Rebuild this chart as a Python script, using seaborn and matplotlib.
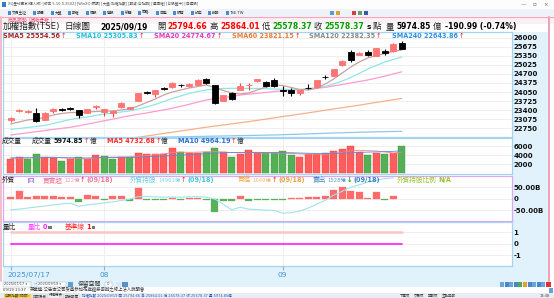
import numpy as np
import matplotlib
matplotlib.use("Agg")
import matplotlib.pyplot as plt
import seaborn as sns
from matplotlib.patches import Rectangle

# ---------------- data ----------------
opens = [23060, 23360, 23330, 23289, 23049, 23380, 23430, 23470, 23396, 23310,
         23510, 23346, 23310, 23504, 23443, 23740, 24055, 23970, 24185, 24220,
         24305, 24250, 24303, 24507, 24303, 23740, 24027, 24124, 24290, 24435,
         24420, 24480, 24110, 24124, 24027, 24200, 24220, 24595, 24625, 25019,
         25485, 25378, 25470, 25342, 25521, 25532, 25794.66]
highs = [23170, 23450, 23400, 23489, 23330, 23470, 23480, 23530, 23420, 23460,
         23600, 23460, 23400, 23690, 23520, 24020, 24100, 24140, 24230, 24400,
         24350, 24360, 24500, 24554, 24320, 23960, 24050, 24364, 24385, 24520,
         24460, 24540, 24267, 24180, 24140, 24330, 24490, 24650, 24880, 25210,
         25557, 25480, 25540, 25640, 25600, 25800, 25864.01]
lows = [22990, 23320, 23290, 22990, 23040, 23300, 23370, 23400, 23110, 23290,
        23460, 23192, 23167, 23490, 23430, 23730, 23990, 23884, 24120, 24210,
        24240, 24240, 24290, 24350, 23630, 23720, 23770, 24110, 24124, 24420,
        24230, 24230, 23908, 23900, 23950, 24160, 24210, 24520, 24610, 25000,
        25140, 25360, 25330, 25330, 25380, 25500, 25578.37]
closes = [23120, 23395, 23360, 23002, 23310, 23440, 23410, 23445, 23217, 23443,
          23535, 23443, 23382, 23669, 23504, 24005, 24030, 24124, 24160, 24385,
          24285, 24339, 24482, 24364, 23647, 23944, 23790, 24267, 24315, 24507,
          24260, 24250, 24090, 24005, 24124, 24180, 24482, 24575, 24865, 25180,
          25215, 25460, 25370, 25618, 25439, 25769.36, 25578.37]

sma5 = [22905, 22977, 23049, 23084, 23138, 23228, 23282, 23317, 23317, 23335,
        23353, 23371, 23371, 23407, 23443, 23550, 23676, 23801, 23944, 24052,
        24124, 24195, 24249, 24303, 24213, 24106, 24016, 23980, 24016, 24124,
        24231, 24303, 24285, 24213, 24141, 24124, 24195, 24338, 24518, 24733,
        24948, 25127, 25270, 25360, 25431, 25503, 25554.56]
sma10 = [22715, 22744, 22780, 22816, 22852, 22923, 22995, 23067, 23120, 23156,
         23210, 23264, 23299, 23335, 23371, 23443, 23514, 23604, 23711, 23819,
         23909, 23998, 24070, 24124, 24159, 24177, 24184, 24184, 24177, 24177,
         24167, 24159, 24149, 24141, 24141, 24177, 24213, 24249, 24338, 24446,
         24571, 24715, 24876, 25001, 25127, 25216, 25305.83]
sma20 = [22511, 22550, 22590, 22630, 22670, 22710, 22750, 22787, 22840, 22900,
         22960, 23020, 23080, 23140, 23200, 23253, 23300, 23360, 23410, 23468,
         23540, 23610, 23690, 23765, 23810, 23850, 23890, 23944, 23975, 24005,
         24035, 24070, 24095, 24115, 24135, 24150, 24180, 24220, 24267, 24320,
         24375, 24430, 24482, 24550, 24620, 24700, 24774.67]
sma60 = [21750, 21800, 21845, 21890, 21935, 21980, 22025, 22070, 22115, 22160,
         22205, 22250, 22295, 22340, 22385, 22430, 22475, 22520, 22565, 22610,
         22655, 22700, 22745, 22790, 22830, 22870, 22910, 22950, 22990, 23035,
         23080, 23125, 23170, 23215, 23260, 23305, 23350, 23400, 23445, 23490,
         23535, 23580, 23630, 23680, 23725, 23775, 23821.15]
sma240 = [22330, 22335, 22340, 22345, 22350, 22356, 22362, 22368, 22374, 22380,
          22386, 22392, 22398, 22404, 22410, 22416, 22422, 22428, 22434, 22440,
          22446, 22452, 22458, 22464, 22470, 22476, 22482, 22488, 22494, 22500,
          22506, 22512, 22522, 22532, 22542, 22552, 22562, 22572, 22582, 22592,
          22600, 22608, 22616, 22624, 22630, 22637, 22643.86]
sma120_last = 22382.35

volume = [3100, 3700, 3100, 4290, 3560, 3340, 2810, 3100, 3700, 3190,
          4000, 3850, 3190, 3700, 3560, 4580, 4290, 4290, 4290, 5530,
          4650, 4500, 4500, 4650, 5530, 4650, 3560, 4290, 5160, 4430,
          4430, 4580, 5010, 4070, 3560, 4290, 4220, 4430, 5010, 5310,
          6040, 4800, 4070, 4580, 4290, 4580, 5974.85]
vol_up = [1, 1, 0, 0, 1, 1, 0, 1, 0, 1, 1, 0, 0, 1, 0, 1, 1, 1, 1, 1,
          0, 1, 1, 0, 0, 1, 0, 1, 1, 1, 0, 0, 0, 0, 1, 1, 1, 1, 1, 1,
          1, 1, 0, 1, 0, 1, 0]
vma5 = [3300, 3350, 3400, 3500, 3550, 3600, 3450, 3350, 3300, 3200,
        3400, 3550, 3600, 3650, 3650, 3800, 3950, 4150, 4300, 4600,
        4700, 4650, 4700, 4750, 4800, 4700, 4600, 4550, 4650, 4550,
        4500, 4500, 4500, 4400, 4300, 4250, 4250, 4150, 4450, 4650,
        5000, 5100, 5000, 4950, 4750, 4460, 4732.68]
vma10 = [3450, 3460, 3470, 3480, 3490, 3500, 3480, 3460, 3440, 3420,
         3450, 3480, 3500, 3520, 3540, 3600, 3680, 3760, 3840, 3950,
         4050, 4150, 4250, 4350, 4450, 4550, 4600, 4600, 4650, 4650,
         4620, 4600, 4580, 4560, 4500, 4450, 4420, 4400, 4420, 4450,
         4550, 4650, 4700, 4750, 4800, 4880, 4964.19]

# foreign investors (億), data up to 09/18
foreign_net = [90, 340, 90, 130, 130, 130, 90, 60, -160, 160,
               130, -70, 130, 130, -80, 460, -40, -50, -50, 50,
               -50, 50, 50, -50, -580, -80, -100, 130, -100, -50,
               -50, -50, -50, 30, 30, 60, 90, 100, 380, 500,
               340, 310, 20, 280, -40, 122]
foreign_hold = [13730, 13760, 13800, 13840, 13880, 13920, 13960, 13990, 13870, 13920,
                13960, 14000, 14040, 14090, 14140, 14240, 14250, 14230, 14220, 14230,
                14220, 14230, 14240, 14220, 14150, 13950, 13730, 13830, 13760, 13740,
                13720, 13710, 13600, 13620, 13680, 13800, 13950, 14100, 14300, 14450,
                14600, 14700, 14800, 14880, 14940, 14961]
foreign_buy_last = 1649
foreign_sell_last = 1528
foreign_date = "09/18"

vol_ratio = [0, 0, 0, 0, 0, 0, 0, 0, 0, 0, 0, 0, 0, 0, 0, 0, 0, 0, 0, 0, 0, 0, 0, 0,
             0, 0, 0, 0, 0, 0, 0, 0, 0, 0, 0, 0, 0, 0, 0, 0, 0, 0, 0, 0, 0, 0, 0]
base_line = [1, 1, 1, 1, 1, 1, 1, 1, 1, 1, 1, 1, 1, 1, 1, 1, 1, 1, 1, 1, 1, 1, 1, 1,
             1, 1, 1, 1, 1, 1, 1, 1, 1, 1, 1, 1, 1, 1, 1, 1, 1, 1, 1, 1, 1, 1, 1]

date_tick_idx = [0, 11, 32]
date_tick_lbl = ["2025/07/17", "08", "09"]
price_ticks = [26000, 25675, 25350, 25025, 24700, 24375, 24050, 23725, 23400, 23075, 22750]
vol_ticks = [6000, 4000, 2000]
foreign_ticks = [500, 0, -500]
foreign_tick_lbl = ["50.00B", "0", "-50.00B"]
ratio_ticks = [1, 0, -1]
last_date = "2025/09/19"

# ---------------- style ----------------
sns.set_theme(style="white")
plt.rcParams['font.family'] = ['DejaVu Sans', 'Noto Sans CJK TC']
plt.rcParams['axes.unicode_minus'] = False

W, H = 554, 298
fig = plt.figure(figsize=(W / 100, H / 100), dpi=100)
fig.patch.set_facecolor('white')
renderer = fig.canvas.get_renderer()


def fx(x):
    return x / W


def fy(y):
    return 1 - y / H


def frect(x0, y0, x1, y1, color, z=-5, ec='none', lw=0):
    fig.add_artist(Rectangle((fx(x0), fy(y1)), (x1 - x0) / W, (y1 - y0) / H,
                             transform=fig.transFigure, facecolor=color,
                             edgecolor=ec, linewidth=lw, zorder=z))


def seq(x, y, parts):
    cur = x
    for p in parts:
        s, color, size, weight = p[:4]
        gap = p[4] if len(p) > 4 else 0.6
        t = fig.text(fx(cur), fy(y), s, color=color, fontsize=size,
                     fontweight=weight, ha='left', va='baseline', zorder=10)
        bb = t.get_window_extent(renderer)
        cur += bb.width + gap
    return cur


n = len(closes)
idx = np.arange(n)
X0, DX = 10.7, 8.5
XL = ((3 - X0) / DX, (512 - X0) / DX)

BORDER = '#a6d3f2'
GRID = '#ededed'


def add_ax(x0, y0, x1, y1):
    return fig.add_axes([fx(x0), fy(y1), (x1 - x0) / W, (y1 - y0) / H])


def style_ax(ax, yt, ylbl=None, border=BORDER):
    ax.set_facecolor('white')
    ax.set_xlim(*XL)
    ax.set_xticks(date_tick_idx)
    ax.tick_params(axis='x', length=0, labelbottom=False)
    ax.yaxis.tick_right()
    ax.set_yticks(yt)
    if ylbl is not None:
        ax.set_yticklabels(ylbl)
    ax.tick_params(axis='y', length=0, pad=1.2, labelsize=5, labelcolor='#111111',
                   labelleft=False, labelright=True)
    for lab in ax.get_yticklabels():
        lab.set_fontweight('bold')
    ax.grid(True, axis='both', color=GRID, lw=0.6)
    ax.set_axisbelow(True)
    for sp in ax.spines.values():
        sp.set_color(border)
        sp.set_linewidth(0.9)


# ---------------- window chrome ----------------
frect(0, 0, 554, 8.5, '#fdfdfd')
fig.text(fx(8), fy(4.5), "XQ全球贏家(個人版) [版本 5.10.0.2502] [WinXQ 帳號] [大盤:加權指數] [期貨:台指期] [選擇權] [台股盤中] [自選股]",
         fontsize=2.6, color='#555555', va='center', ha='left')
frect(2, 2, 6, 7, '#3a78c8', z=1)
for xx, s in [(523, "—"), (534, "▫"), (546, "×")]:
    fig.text(fx(xx), fy(4.5), s, fontsize=4, color='#666666', va='center', ha='center')
frect(0, 8.5, 554, 16.5, '#eef3f9')
tb = ["交易主控", "報價", "大盤", "期權", "個股", "選股", "新聞", "策略", "自選", "帳務", "設定", "說明", "TSE.TW"]
xx = 8
for s in tb:
    frect(xx, 10.5, xx + 3, 14.5, '#4a8ad0', z=1)
    t = fig.text(fx(xx + 4), fy(12.6), s, fontsize=2.7, color='#333333', va='center', ha='left')
    xx += 4 + t.get_window_extent(renderer).width + 6
for xc, col in [(330, '#5a9ad8'), (336, '#e0a030'), (352, '#d04040'), (358, '#60a060'), (364, '#3a5ab0')]:
    frect(xc, 10.5, xc + 4, 14.5, col, z=1)
frect(0, 16.5, 554, 24, '#fbf1f5')
fig.add_artist(plt.Line2D([0, 1], [fy(16.8), fy(16.8)], transform=fig.transFigure, color='#f2a8bc', lw=0.8))
fig.text(fx(8), fy(20.3), "商品趨勢", fontsize=3.6, color='#e06080', va='center', ha='left')
fig.text(fx(30), fy(20.3), "技術分析", fontsize=3.6, color='#e02a5a', va='center', ha='left',
         bbox=dict(boxstyle='square,pad=0.15', fc='#fff6f8', ec='#f08aa0', lw=0.4))
# window side borders
fig.add_artist(plt.Line2D([fx(1), fx(1)], [fy(17), fy(281)], transform=fig.transFigure, color='#f2b0c0', lw=1.2))
fig.add_artist(plt.Line2D([fx(549), fx(549)], [fy(17), fy(281)], transform=fig.transFigure, color='#f2a0b4', lw=1.4))
# right axis / date strip background
frect(512, 32, 548.5, 281, '#e2f2fc')
frect(3, 266, 548.5, 287, '#e2f2fc')

# ---------------- header ----------------
chg = closes[-1] - closes[-2]
pct = chg / closes[-2] * 100
HB = 29.3
NS = 5.5
seq(3, HB, [("加權指數(TSE)", "#222222", 6.2, "normal")])
seq(65, HB, [("日線圖", "#222222", 6.2, "normal")])
seq(100, HB, [(last_date, "#000000", NS, "bold")])
seq(157, HB, [("開", "#222222", 6.0, "normal", 2.2), (f"{opens[-1]:.2f}", "#ff0000", NS, "bold")])
seq(210, HB, [("高", "#222222", 6.0, "normal", 2.2), (f"{highs[-1]:.2f}", "#ff0000", NS, "bold")])
seq(262, HB, [("低", "#222222", 6.0, "normal", 2.2), (f"{lows[-1]:.2f}", "#00a000", NS, "bold")])
seq(314, HB, [("收", "#222222", 6.0, "normal", 2.2), (f"{closes[-1]:.2f}", "#00a000", NS, "bold", 2.2),
              ("s", "#111111", 5.4, "bold", 1.5), ("點", "#222222", 6.0, "normal")])
seq(386, HB, [("量", "#222222", 6.0, "normal", 2.2), (f"{volume[-1]:.2f}", "#000000", NS, "bold", 1.8),
              ("億", "#222222", 6.0, "normal", 3.5), (f"{chg:.2f} ({pct:.2f}%)", "#000000", NS, "bold")])

# SMA legend
SB = 38.2
for x0, name, val, col in [(3, "SMA5", sma5[-1], "#a82828"), (76, "SMA10", sma10[-1], "#22c3d3"),
                           (154, "SMA20", sma20[-1], "#ec36b4"), (232, "SMA60", sma60[-1], "#f07a30"),
                           (309, "SMA120", sma120_last, "#8a8a8a"), (392, "SMA240", sma240[-1], "#2e90e0")]:
    seq(x0, SB, [(f"{name} {val:.2f}", col, 4.7, "bold", 0.8), ("↑", "#ff2020", 4.7, "normal")])

# ---------------- main price panel ----------------
axm = add_ax(3, 32.3, 512, 136.7)
style_ax(axm, price_ticks)
axm.set_ylim(22450, 26191)
for arr, col in [(sma240, '#8cc8ee'), (sma60, '#f6b08a'), (sma20, '#ff9ad2'),
                 (sma10, '#8fe6e8'), (sma5, '#caa0a0')]:
    sns.lineplot(x=idx, y=arr, ax=axm, color=col, lw=0.9, legend=False, zorder=2)
o = np.array(opens, float); c = np.array(closes, float)
hi = np.array(highs, float); lo = np.array(lows, float)
up = c >= o
body_col = np.where(up, '#ff7474', '#000000')
wick_col = np.where(up, '#ff4040', '#000000')
axm.vlines(idx, lo, hi, colors=wick_col, lw=0.8, zorder=3)
axm.bar(idx, np.abs(c - o), bottom=np.minimum(o, c), width=0.72, color=body_col,
        edgecolor=body_col, linewidth=0.6, zorder=4)
axm.set_xlabel(''); axm.set_ylabel('')

# ---------------- volume panel ----------------
axv = add_ax(3, 137.5, 512, 174.3)
style_ax(axv, vol_ticks)
axv.set_ylim(-176, 7912)
vcol = ['#ff5c5c' if u else '#55b055' for u in vol_up]
vedge = ['#e04848' if u else '#3f963f' for u in vol_up]
axv.bar(idx, volume, width=0.86, color=vcol, edgecolor=vedge, linewidth=0.3, zorder=3)
sns.lineplot(x=idx, y=vma5, ax=axv, color='#ff8080', lw=0.6, legend=False, zorder=4)
sns.lineplot(x=idx, y=vma10, ax=axv, color='#5a8ad8', lw=0.6, legend=False, zorder=4)
axv.set_xlabel(''); axv.set_ylabel('')
VB = 143.0
seq(2, VB, [("成交量", "#222222", 4.8, "normal")])
seq(32, VB, [("成交量", "#222222", 4.8, "normal", 1.5), (f"{volume[-1]:.2f}", "#111111", 4.7, "bold", 0.6),
             ("↑", "#ff2020", 4.7, "normal", 0.4), ("億", "#222222", 4.8, "normal")])
seq(107, VB, [(f"MA5 {vma5[-1]:.2f}", "#ff2a2a", 4.7, "bold", 0.6), ("↑", "#ff2020", 4.7, "normal", 0.4),
              ("億", "#222222", 4.8, "normal")])
seq(178, VB, [(f"MA10 {vma10[-1]:.2f}", "#2a70d0", 4.7, "bold", 0.6), ("↑", "#ff2020", 4.7, "normal", 0.4),
              ("億", "#222222", 4.8, "normal")])

# ---------------- foreign investor panel ----------------
axf = add_ax(3, 175.7, 512, 221)
axf2 = axf.twinx()
style_ax(axf, foreign_ticks, foreign_tick_lbl, border='#dba8f2')
axf.set_ylim(-986, 1017)
fidx = np.arange(len(foreign_net))
fcol = ['#ff6a6a' if v >= 0 else '#58b058' for v in foreign_net]
axf.bar(fidx, foreign_net, width=0.86, color=fcol, edgecolor=fcol, linewidth=0.2, zorder=3)
axf2.set_ylim(13300, 15050)
axf2.set_xlim(*XL)
sns.lineplot(x=fidx, y=foreign_hold, ax=axf2, color='#9fe3ea', lw=0.8, legend=False)
axf2.axis('off')
FB = 182.2
seq(2, FB, [("外資", "#222222", 4.8, "normal")])
frect(28, 177.5, 33.5, 183, '#b488ea', z=8)
fig.text(fx(30.75), fy(180.3), "匯", fontsize=3, color='white', ha='center', va='center', zorder=11)
seq(43, FB, [("買賣超", "#f07898", 4.8, "normal", 1.5), (f"{foreign_net[-1]}億", "#f49ab0", 3.8, "normal", 0.4),
             ("↑", "#ff2020", 4.7, "normal", 1.2), (f"({foreign_date})", "#f07898", 4.7, "bold")])
seq(130, FB, [("外資持股", "#5ad2d8", 4.8, "normal", 1.5), (f"{foreign_hold[-1]}億", "#7adce0", 3.8, "normal", 0.4),
              ("↑", "#ff2020", 4.7, "normal", 1.2), (f"({foreign_date})", "#3ec8d0", 4.7, "bold")])
seq(238, FB, [("買進", "#f2a64a", 4.8, "normal", 1.5), (f"{foreign_buy_last}億", "#f4b870", 3.8, "normal", 0.4),
              ("↑", "#ff2020", 4.7, "normal", 1.2), (f"({foreign_date})", "#f0a040", 4.7, "bold")])
seq(313, FB, [("賣出", "#3a8cc4", 4.8, "normal", 1.5), (f"{foreign_sell_last}億", "#5aa0d0", 3.8, "normal", 0.4),
              ("↓", "#16a016", 4.7, "bold", 1.2), (f"({foreign_date})", "#2e84c0", 4.7, "bold")])
seq(397, FB, [("外資持股比例", "#98c428", 4.8, "normal", 1.5), ("N/A", "#98c428", 4.7, "bold")])

# ---------------- volume ratio panel ----------------
axr = add_ax(3, 222, 512, 266)
style_ax(axr, ratio_ticks)
axr.set_ylim(-1.95, 1.91)
sns.lineplot(x=idx, y=base_line, ax=axr, color='#ffc4c4', lw=1.8, legend=False, zorder=3)
sns.lineplot(x=idx, y=vol_ratio, ax=axr, color='#ff3cff', lw=1.4, legend=False, zorder=4)
RB = 229.3
seq(3, RB, [("量比", "#222222", 4.8, "normal")])
e = seq(28, RB, [("量比", "#ff40ff", 4.8, "normal", 1.5), (f"{vol_ratio[-1]}", "#ff20ff", 4.7, "bold", 1.2)])
frect(e, 226.3, e + 3.2, 228.8, '#777777', z=8)
e = seq(65, RB, [("基準線", "#ff3030", 4.8, "normal", 1.5), (f"{base_line[-1]}", "#ff1010", 4.7, "bold", 1.2)])
frect(e, 226.3, e + 3.2, 228.8, '#777777', z=8)

# ---------------- date axis ----------------
axd = add_ax(3, 266, 512, 281)
axd.set_xlim(*XL); axd.set_ylim(0, 1)
axd.axis('off')
axd.vlines(date_tick_idx, 0.72, 1.0, colors='#7ab8e2', lw=0.8)
for i, (ti, tl) in enumerate(zip(date_tick_idx, date_tick_lbl)):
    axd.text(ti - (0.4 if i == 0 else 0), 0.42, tl, ha='left' if i == 0 else 'center', va='center',
             fontsize=5.4, color='#3a92d4')

# ---------------- bottom controls / news / status ----------------
frect(3, 281.5, 31, 286.5, 'white', z=1, ec='#9ab', lw=0.3)
frect(37, 281.5, 66, 286.5, 'white', z=1, ec='#9ab', lw=0.3)
fig.text(fx(4), fy(284), "2025/07/17 ▾", fontsize=2.5, color='#444444', va='center', zorder=11)
fig.text(fx(33.2), fy(284), "~", fontsize=3, color='#444444', va='center', zorder=11)
fig.text(fx(38), fy(284), "2025/09/19 ▾", fontsize=2.5, color='#444444', va='center', zorder=11)
frect(68, 281.5, 73, 286.5, '#5aa0d8', z=1)
fig.text(fx(78), fy(284), "保留空間", fontsize=4.2, color='#333333', va='center', zorder=11)
frect(105, 281.5, 112, 286.5, 'white', z=1, ec='#9ab', lw=0.3)
fig.text(fx(107), fy(284), "0", fontsize=2.8, color='#555555', va='center', zorder=11)
frect(116, 281.5, 122, 286.5, '#d8e8f4', z=1)
frect(122, 281.5, 128, 286.5, '#5a90c8', z=1)
for k, col in enumerate(['#6aa6dc', '#4a86c8', '#6aa6dc', '#4a86c8', '#4aa860', '#e0a030', '#4a86c8', '#6aa6dc', '#4a86c8', '#6aa6dc']):
    frect(500 + k * 4.6, 281.5, 504 + k * 4.6, 286.5, col, z=1)
frect(546, 281.5, 551, 286.5, '#e03030', z=1)
frect(0, 287, 554, 293, 'white', z=-4)
fig.text(fx(3), fy(290), "09/19 13:37", fontsize=2.7, color='#333333', va='center')
fig.text(fx(30), fy(290), "英業達:公告本公司受邀參加花旗證券舉辦之線上法人說明會", fontsize=3.2, color='#333333', va='center')
frect(549, 287.5, 553, 292.5, '#6aa0d4', z=1)
frect(0, 293, 554, 298, '#e8edf5', z=-4)
frect(4, 293.5, 31, 298, '#f6d04a', z=1)
fig.text(fx(5), fy(295.8), "台股指數(即時)", fontsize=2.6, color='#333333', va='center', zorder=11)
for k, s in enumerate(["即時看盤", "行情總表", "期權報價"]):
    frect(32 + k * 16, 293.5, 47 + k * 16, 298, '#f4f4f4', z=1, ec='#aab', lw=0.2)
    fig.text(fx(33 + k * 16), fy(295.8), s, fontsize=2.5, color='#333333', va='center', zorder=11)
fig.text(fx(82), fy(295.8), "加權指數 2025/09/19 開 25794.66 高 25864.01 低 25578.37 收 25578.37 量 5974.85億",
         fontsize=2.5, color='#2a58b0', va='center')
for k, s in enumerate(["下單夾", "交易夾", "回報夾", "主動回報"]):
    fig.text(fx(400 + k * 14), fy(295.8), s, fontsize=2.5, color='#333333', va='center')
fig.text(fx(540), fy(295.8), "13:38", fontsize=2.5, color='#333333', va='center')

fig.savefig('out.png', dpi=100, facecolor=fig.get_facecolor())
